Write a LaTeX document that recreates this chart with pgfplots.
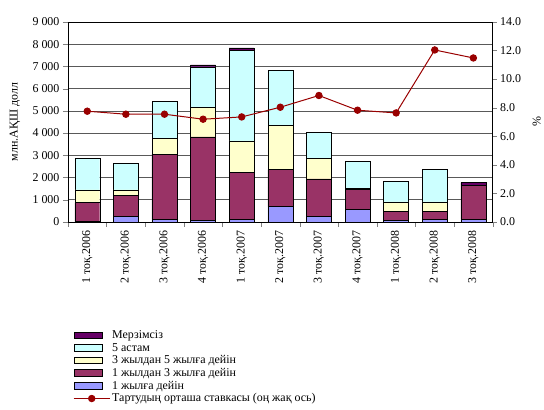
\documentclass[border=0pt]{standalone}
\usepackage{pgfplots}
\pgfplotsset{compat=1.18}
\usepackage{pgfplotstable}
\usetikzlibrary{calc}
\usepackage{fontspec}
\setmainfont{Liberation Serif}
\definecolor{cA}{HTML}{9999FF}
\definecolor{cB}{HTML}{993366}
\definecolor{cC}{HTML}{FFFFCC}
\definecolor{cD}{HTML}{CCFFFF}
\definecolor{cE}{HTML}{660066}
\definecolor{cL}{HTML}{990000}
\pgfplotstableread{
x a b c d e
0 10 860 570 1430 0
1 240 960 240 1210 0
2 120 2930 720 1640 0
3 60 3770 1340 1810 90
4 120 2110 1420 4080 100
5 690 1660 2000 2480 0
6 240 1700 930 1160 0
7 570 900 50 1190 0
8 60 420 420 920 0
9 120 360 420 1450 0
10 120 1530 0 0 120
}\bars
\pgfplotstableread{
x r
0 7.75
1 7.54
2 7.54
3 7.19
4 7.35
5 8.03
6 8.85
7 7.82
8 7.63
9 12.04
10 11.48
}\rate
\pgfplotsset{
  boxleg/.style={legend image code/.code={\draw[##1] (0bp,-3bp) rectangle (28bp,3.5bp);}},
  lineleg/.style={legend image code/.code={\draw[mark repeat=2,mark phase=2,##1] plot coordinates {(0bp,0bp)(18bp,0bp)(36bp,0bp)};}},
}
\begin{document}
\begin{tikzpicture}[font=\fontsize{12}{14}\selectfont]
\begin{axis}[
  scale only axis, width=425bp, height=200bp,
  ybar stacked, bar width=25bp,
  xmin=-0.5, xmax=10.5, ymin=0, ymax=9000,
  xtick={0,...,10},
  xticklabels={1 тоқ.2006,2 тоқ.2006,3 тоқ.2006,4 тоқ.2006,1 тоқ.2007,2 тоқ.2007,3 тоқ.2007,4 тоқ.2007,1 тоқ.2008,2 тоқ.2008,3 тоқ.2008},
  major x tick style={draw=none},
  minor xtick={-0.5,0.5,...,10.5},
  xtick pos=bottom, ytick pos=left,
  tick align=outside, major tick length=5bp, minor tick length=5bp,
  xticklabel style={rotate=90, anchor=east},
  ytick={0,1000,...,9000},
  ymajorgrids, grid style={black!65, line width=0.6pt},
  /pgf/number format/assume math mode=true,
  /pgf/number format/1000 sep={\ },
  ylabel={млн.АҚШ долл},
  ylabel style={at={(axis description cs:0,0.5)}, anchor=center, rotate=0, yshift=53bp},
  axis line style={black, line width=0.6pt},
  every axis plot/.append style={draw=black, line width=0.5pt},
]
\addplot[fill=cA] table[x=x,y=a]{\bars};
\addplot[fill=cB] table[x=x,y=b]{\bars};
\addplot[fill=cC] table[x=x,y=c]{\bars};
\addplot[fill=cD] table[x=x,y=d]{\bars};
\addplot[fill=cE] table[x=x,y=e]{\bars};
\end{axis}
\begin{axis}[
  scale only axis, width=425bp, height=200bp,
  xmin=-0.5, xmax=10.5, ymin=0, ymax=14,
  axis x line=none, axis y line*=right,
  tick align=outside, major tick length=4bp,
  ytick={0,2,...,14},
  /pgf/number format/assume math mode=true,
  yticklabel style={/pgf/number format/.cd, fixed, fixed zerofill, precision=1},
  ylabel={\%},
  ylabel style={at={(axis description cs:1,0.5)}, anchor=center, yshift=-44bp},
  axis line style={black, line width=0.6pt},
  legend style={at={(rel axis cs:0.012,-0.535)}, anchor=north west, draw=none, fill=none,
    font=\fontsize{12}{13.5}\selectfont, row sep=-1pt, inner sep=0pt},
  legend cell align=left,
]
\addlegendimage{boxleg, fill=cE, draw=black}
\addlegendentry{Мерзімсіз}
\addlegendimage{boxleg, fill=cD, draw=black}
\addlegendentry{5 астам}
\addlegendimage{boxleg, fill=cC, draw=black}
\addlegendentry{3 жылдан 5 жылға дейін}
\addlegendimage{boxleg, fill=cB, draw=black}
\addlegendentry{1 жылдан 3 жылға дейін}
\addlegendimage{boxleg, fill=cA, draw=black}
\addlegendentry{1 жылға дейін}
\addplot[lineleg, cL, line width=1pt, mark=*, mark size=3.2pt, mark options={fill=cL, draw=cL}] table[x=x,y=r]{\rate};
\addlegendentry{Тартудың орташа ставкасы (оң жақ ось)}
\end{axis}
\path ($(current axis.south west)+(-68bp,-188bp)$) rectangle ($(current axis.north east)+(51bp,22bp)$);
\end{tikzpicture}
\end{document}
